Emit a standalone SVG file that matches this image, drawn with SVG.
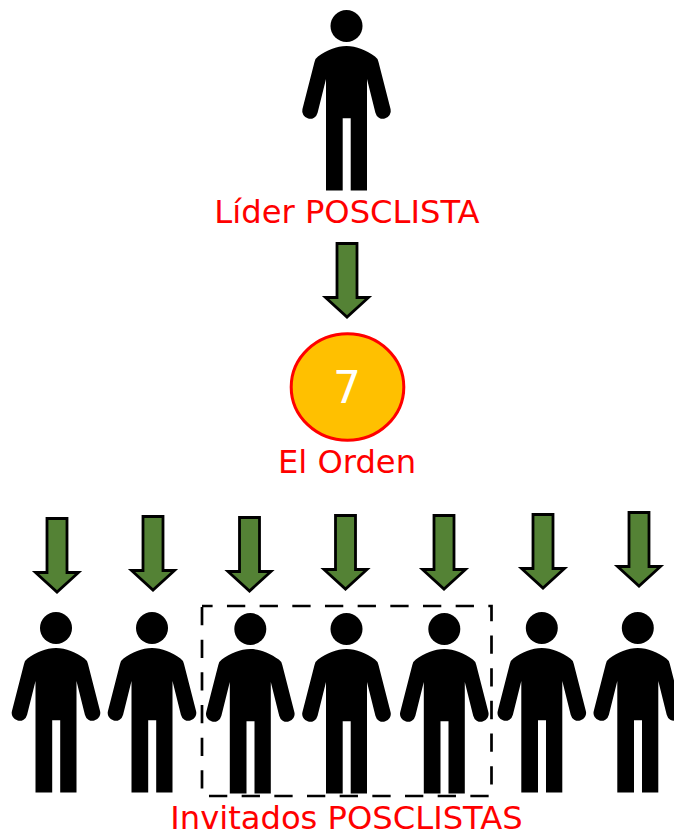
<svg xmlns="http://www.w3.org/2000/svg" width="674" height="833" viewBox="0 0 674 833">
<style>
.lbl{font-family:"DejaVu Sans",sans-serif;font-size:32.200px;fill:#f00;text-anchor:middle}
.arr{fill:#548235;stroke:#000;stroke-width:2.800;stroke-miterlimit:10}
</style>
<defs>
<g id="person"><circle cx="0" cy="0" r="16"/><path d="M-32 36Q-31.500 32.500 -28.500 30.500C-20 24.500 -10 20 0 20C10 20 20 24.500 28.500 30.500Q31.500 32.500 32 36L44.100 83.200A7.800 7.800 0 0 1 28.900 86.800L20.500 53V164.500H4.200V92.300H-3.800V164.500H-20.500V53L-28.900 86.800A7.800 7.800 0 0 1 -44.100 83.200Z"/></g>
<path id="arrow" d="M-10 0H10V54H21.500L0 73.500L-21.500 54H-10Z"/>
</defs>
<g id="connectors">
<use href="#arrow" class="arr" x="347" y="243.500"/>
<use href="#arrow" class="arr" x="57" y="518.500"/>
<use href="#arrow" class="arr" x="153" y="516.500"/>
<use href="#arrow" class="arr" x="249.500" y="517.500"/>
<use href="#arrow" class="arr" x="345.500" y="515.500"/>
<use href="#arrow" class="arr" x="444" y="515.500"/>
<use href="#arrow" class="arr" x="543" y="514.500"/>
<use href="#arrow" class="arr" x="639" y="512.500"/>
</g>
<g id="leader"><use href="#person" x="346.500" y="26"/><text class="lbl" x="347" y="223">Líder POSCLISTA</text></g>
<g id="order"><ellipse cx="347.500" cy="387" rx="56.300" ry="53.300" fill="#FFC000" stroke="#f00" stroke-width="3"/><text x="347" y="402.500" font-family="DejaVu Sans, sans-serif" font-size="44" fill="#fff" text-anchor="middle">7</text><text class="lbl" x="347" y="472.500">El Orden</text></g>
<g id="guest1"><use href="#person" x="56" y="628"/></g>
<g id="guest2"><use href="#person" x="152" y="628"/></g>
<g id="guest3"><use href="#person" x="250.300" y="629"/></g>
<g id="guest4"><use href="#person" x="346.500" y="629"/></g>
<g id="guest5"><use href="#person" x="444.300" y="629"/></g>
<g id="guest6"><use href="#person" x="541.800" y="628"/></g>
<g id="guest7"><use href="#person" x="637.800" y="628"/></g>
<rect id="selection" x="202" y="606" width="289.500" height="190" fill="none" stroke="#000" stroke-width="2.700" stroke-dasharray="18.300 14.370" stroke-dashoffset="7.700"/>
<text id="guests-label" class="lbl" x="346.500" y="829">Invitados POSCLISTAS</text>
</svg>
